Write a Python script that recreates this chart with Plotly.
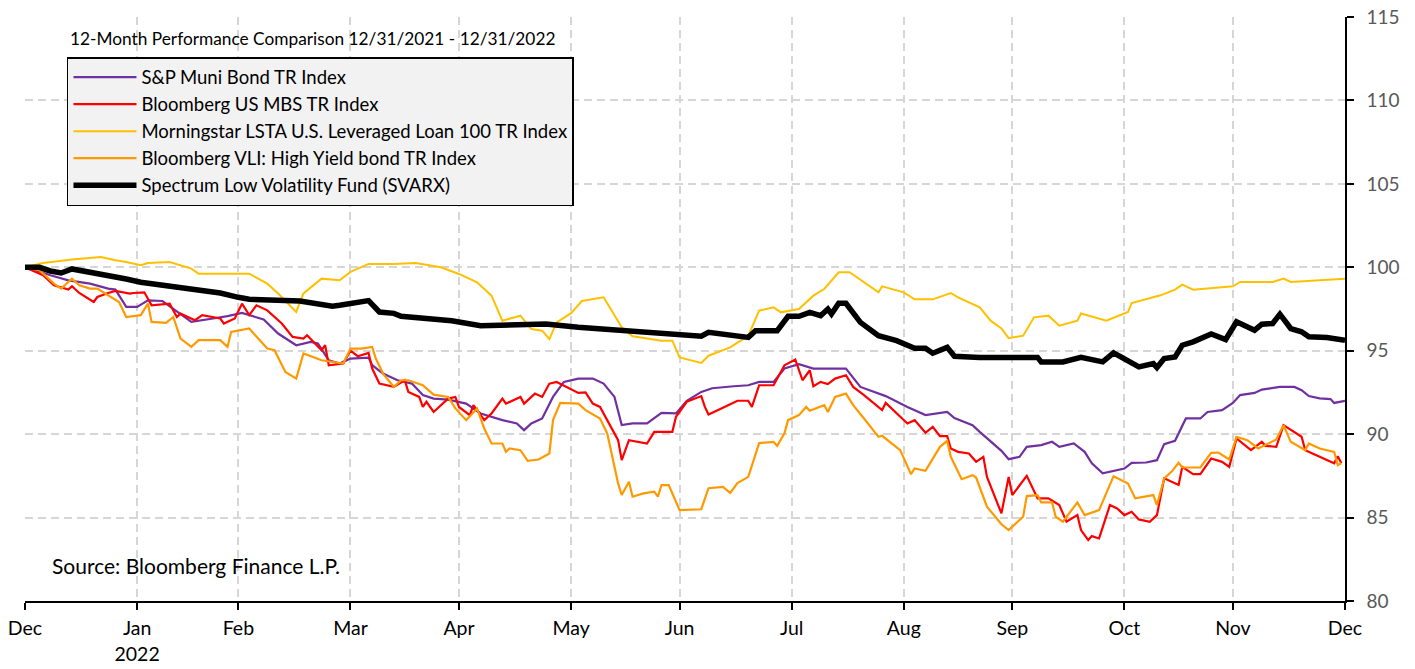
import pandas as pd
import plotly.graph_objects as go

BASE = pd.Timestamp("2021-12-31")

# days since 12/31/2021 and index values
muni_days = [0, 3, 7, 12, 18, 23, 25, 28, 31, 34, 38, 41, 46, 52, 56, 60, 66, 70, 75, 79, 81, 84, 87, 90, 95, 96, 99,
             103, 107, 110, 113, 117, 122, 126, 132, 136, 138, 140, 143, 146, 149, 153, 157, 160, 163, 165, 168, 172,
             176, 180, 183, 187, 190, 196, 200, 203, 207, 210, 213, 214, 218, 227, 231, 236, 238, 244, 249, 255, 257,
             262, 264, 270, 272, 275, 277, 281, 284, 286, 290, 293, 295, 298, 304, 306, 310, 313, 315, 318, 321, 325,
             327, 331, 334, 336, 340, 342, 347, 351, 353, 355, 358, 361, 362, 365]
muni_vals = [100, 99.82, 99.52, 99.22, 99.02, 98.72, 98.66, 97.63, 97.63, 98.02, 97.98, 97.52, 96.73, 96.93, 97.07,
             97.26, 96.87, 96.03, 95.33, 95.53, 95.43, 94.43, 94.23, 94.53, 94.59, 94.13, 93.63, 93.23, 93.03, 92.34,
             92.13, 92.07, 91.83, 91.24, 90.84, 90.64, 90.24, 90.64, 90.94, 92.23, 93.13, 93.33, 93.33, 93.03, 92.23,
             90.54, 90.64, 90.64, 91.28, 91.24, 92.0, 92.53, 92.75, 92.87, 92.93, 93.13, 93.13, 93.93, 94.13, 94.19,
             93.93, 93.93, 92.83, 92.47, 92.28, 91.63, 91.14, 91.33, 90.96, 90.54, 90.14, 89.0, 88.5, 88.64, 89.24,
             89.34, 89.54, 89.24, 89.44, 88.94, 88.25, 87.65, 87.94, 88.28, 88.3, 88.44, 89.4, 89.6, 90.94, 90.94,
             91.33, 91.44, 91.87, 92.34, 92.47, 92.67, 92.83, 92.83, 92.63, 92.28, 92.14, 92.1, 91.87, 91.99]

mbs_days = [0, 3, 5, 8, 12, 13, 15, 19, 20, 23, 25, 29, 30, 33, 35, 40, 42, 43, 47, 49, 54, 55, 58, 60, 62, 64, 67,
            71, 74, 77, 78, 82, 83, 84, 88, 90, 92, 95, 96, 98, 102, 105, 106, 109, 110, 111, 113, 117, 119, 120,
            123, 124, 127, 129, 132, 133, 137, 138, 141, 143, 145, 147, 153, 155, 157, 159, 161, 164, 165, 167, 172,
            174, 179, 180, 183, 187, 188, 189, 194, 197, 200, 201, 203, 207, 210, 213, 215, 217, 218, 220, 222, 224,
            227, 229, 232, 237, 238, 240, 244, 246, 249, 251, 253, 255, 256, 258, 261, 263, 265, 266, 270, 272, 273,
            277, 280, 283, 286, 288, 291, 292, 294, 295, 297, 300, 302, 304, 306, 308, 311, 313, 315, 319, 320, 323,
            325, 328, 331, 333, 335, 339, 342, 343, 346, 348, 351, 353, 354, 358, 362, 363, 364]
mbs_vals = [100, 99.72, 99.52, 98.92, 98.66, 98.86, 98.46, 97.92, 98.22, 98.46, 98.58, 98.42, 98.46, 98.5, 97.72,
            97.82, 97.02, 97.22, 96.83, 97.13, 96.93, 96.63, 96.93, 97.82, 97.13, 97.72, 97.42, 96.63, 95.83, 95.73,
            95.93, 95.03, 95.33, 94.13, 94.23, 95.0, 94.67, 94.87, 93.93, 93.03, 92.83, 93.23, 92.53, 92.23, 91.63,
            91.94, 91.33, 92.13, 92.23, 91.63, 91.14, 91.74, 90.84, 91.24, 92.13, 91.83, 92.23, 91.83, 92.43, 92.23,
            93.03, 93.13, 92.47, 92.5, 91.83, 91.63, 90.84, 89.64, 88.44, 89.64, 89.44, 90.14, 90.14, 91.04, 91.94,
            92.28, 91.63, 91.18, 91.68, 92.0, 92.0, 91.63, 92.93, 92.93, 94.13, 94.47, 93.23, 93.83, 92.87, 93.13,
            93.0, 93.33, 93.53, 92.83, 92.34, 91.44, 91.87, 91.44, 90.64, 90.84, 90.08, 90.44, 89.88, 89.88, 89.14,
            88.94, 88.84, 88.34, 88.64, 87.44, 85.25, 87.44, 86.35, 87.5, 86.15, 86.15, 85.75, 84.75, 85.15, 84.25,
            83.65, 83.89, 83.75, 85.75, 85.55, 85.15, 85.35, 84.89, 84.75, 85.15, 87.35, 86.95, 88.04, 87.6, 87.6,
            88.54, 88.34, 88.04, 89.74, 89.04, 89.54, 89.3, 89.24, 90.54, 90.14, 89.84, 89.04, 88.64, 88.25, 88.68,
            88.25]

lsta_days = [0, 5, 13, 21, 25, 28, 32, 34, 40, 46, 48, 62, 67, 70, 75, 77, 82, 87, 90, 95, 102, 108, 115, 120, 125,
             129, 132, 137, 140, 143, 145, 147, 151, 154, 160, 165, 168, 176, 179, 181, 187, 189, 195, 200, 203, 207,
             209, 214, 218, 221, 225, 228, 236, 237, 243, 246, 251, 256, 258, 264, 267, 270, 272, 276, 279, 283, 286,
             291, 292, 299, 305, 306, 314, 318, 320, 323, 334, 336, 345, 348, 350, 356, 365]
lsta_vals = [100, 100.26, 100.46, 100.62, 100.42, 100.32, 100.12, 100.26, 100.32, 99.92, 99.62, 99.62, 99.02, 98.43,
             97.33, 98.43, 99.32, 99.22, 99.72, 100.2, 100.2, 100.26, 100.0, 99.6, 99.1, 98.3, 96.8, 97.1, 96.3, 96.2,
             95.7, 96.7, 97.25, 97.98, 98.2, 96.4, 95.87, 95.6, 95.6, 94.6, 94.27, 94.7, 95.2, 95.9, 97.4, 97.6, 97.3,
             97.5, 98.3, 98.7, 99.7, 99.7, 98.5, 98.86, 98.5, 98.08, 98.08, 98.46, 98.2, 97.6, 96.8, 96.33, 95.75, 95.9,
             97.0, 97.1, 96.5, 96.8, 97.23, 96.8, 97.32, 97.86, 98.32, 98.66, 98.96, 98.66, 98.86, 99.12, 99.12, 99.32,
             99.12, 99.2, 99.32]

vli_days = [0, 4, 8, 10, 12, 13, 15, 18, 20, 22, 26, 28, 32, 34, 35, 39, 41, 43, 46, 48, 54, 56, 57, 62, 64, 67, 69,
            72, 75, 77, 82, 88, 90, 93, 96, 97, 99, 102, 104, 106, 110, 113, 117, 119, 122, 125, 127, 129, 132, 133,
            134, 137, 139, 142, 145, 146, 148, 151, 153, 155, 159, 161, 164, 165, 167, 168, 171, 174, 175, 176, 178,
            181, 187, 189, 193, 195, 197, 200, 203, 207, 208, 210, 211, 214, 216, 217, 221, 222, 224, 227, 229, 232,
            236, 237, 242, 245, 246, 249, 253, 255, 256, 259, 262, 263, 266, 270, 272, 276, 277, 280, 281, 284, 285,
            287, 291, 293, 297, 301, 305, 307, 312, 313, 315, 317, 319, 320, 325, 328, 330, 333, 335, 338, 341, 346,
            348, 350, 354, 355, 358, 362, 363, 364]
vli_vals = [100, 99.82, 99.02, 98.72, 99.12, 99.32, 98.92, 98.72, 98.72, 98.46, 97.92, 97.02, 97.13, 97.82, 96.73,
            96.67, 97.02, 95.73, 95.23, 95.63, 95.63, 95.23, 96.13, 96.33, 95.83, 95.13, 95.03, 93.73, 93.33, 94.83,
            94.43, 94.23, 95.13, 95.13, 95.23, 94.53, 93.63, 92.83, 93.23, 93.23, 92.93, 92.37, 92.23, 91.54, 90.84,
            91.54, 90.34, 89.44, 89.44, 88.94, 89.14, 89.04, 88.4, 88.48, 88.84, 90.84, 91.87, 91.87, 91.83, 91.44,
            90.94, 90.04, 87.05, 86.35, 87.15, 86.25, 86.45, 86.55, 86.25, 86.95, 86.95, 85.45, 85.5, 86.76, 86.84,
            86.48, 87.07, 87.44, 89.46, 89.54, 89.3, 90.05, 90.84, 91.14, 91.63, 91.4, 91.74, 91.33, 92.23, 92.43,
            91.74, 90.94, 89.84, 89.9, 89.04, 87.6, 87.94, 87.8, 89.24, 89.6, 88.64, 87.3, 87.54, 87.4, 85.65, 84.6,
            84.25, 85.05, 86.29, 86.35, 85.91, 85.91, 85.05, 84.75, 85.91, 85.15, 85.45, 87.48, 87.04, 86.15, 86.35,
            85.75, 87.35, 87.74, 88.28, 88.0, 88.0, 88.88, 88.9, 88.48, 89.84, 89.64, 89.14, 89.68, 90.54, 89.54,
            89.04, 89.44, 89.14, 88.94, 88.14, 88.25]

svarx_days = [0, 4, 7, 10, 13, 19, 25, 28, 32, 36, 41, 48, 54, 59, 62, 76, 81, 85, 87, 90, 95, 98, 102, 104, 118,
              126, 144, 153, 166, 170, 178, 187, 189, 193, 196, 200, 202, 208, 211, 214, 217, 220, 222, 223, 225, 227,
              231, 236, 241, 246, 249, 251, 255, 257, 264, 280, 281, 287, 292, 298, 301, 305, 308, 312, 313, 315, 318,
              320, 323, 328, 332, 335, 340, 342, 345, 347, 350, 353, 355, 360, 365]
svarx_vals = [100, 100.0, 99.78, 99.66, 99.9, 99.66, 99.5, 99.3, 99.1, 98.98, 98.86, 98.7, 98.46, 98.2, 98.08, 97.98,
              97.84, 97.66, 97.72, 97.84, 98.0, 97.32, 97.24, 97.06, 96.8, 96.5, 96.6, 96.4, 96.2, 96.07, 96.0, 95.87,
              96.1, 96.0, 95.87, 95.8, 96.2, 96.2, 97.06, 97.06, 97.3, 97.1, 97.5, 97.2, 97.84, 97.84, 96.7, 95.9, 95.6,
              95.15, 95.15, 94.85, 95.2, 94.67, 94.6, 94.6, 94.33, 94.33, 94.6, 94.33, 94.87, 94.43, 94.03, 94.23, 93.99,
              94.53, 94.63, 95.33, 95.53, 96.0, 95.67, 96.73, 96.23, 96.59, 96.63, 97.19, 96.33, 96.13, 95.83, 95.79,
              95.63]

series_names = ["S&P Muni Bond TR Index", "Bloomberg US MBS TR Index",
                "Morningstar LSTA U.S. Leveraged Loan 100 TR Index", "Bloomberg VLI: High Yield bond TR Index",
                "Spectrum Low Volatility Fund (SVARX)"]
tick_dates = ["2021-12-31", "2022-01-31", "2022-02-28", "2022-03-31", "2022-04-30", "2022-05-31", "2022-06-30",
              "2022-07-31", "2022-08-31", "2022-09-30", "2022-10-31", "2022-11-30", "2022-12-31"]
tick_labels = ["Dec", "Jan<br>2022", "Feb", "Mar", "Apr", "May", "Jun", "Jul", "Aug", "Sep", "Oct", "Nov", "Dec"]
y_ticks = [80, 85, 90, 95, 100, 105, 110, 115]

FONT = "Lato"
GRID = dict(showgrid=True, gridcolor="#d6d6d6", griddash="8px,5px", gridwidth=1.5)


def to_dates(days):
    return BASE + pd.to_timedelta(days, unit="D")


data = [(muni_days, muni_vals, "#7030a0", 2.2),
        (mbs_days, mbs_vals, "#ff0000", 2.2),
        (lsta_days, lsta_vals, "#ffc000", 2.0),
        (vli_days, vli_vals, "#ff9900", 2.2),
        (svarx_days, svarx_vals, "#000000", 5.5)]

fig = go.Figure()
for (d, v, c, w), name in zip(data, series_names):
    fig.add_trace(go.Scatter(x=to_dates(d), y=v, mode="lines", name=name,
                             line=dict(color=c, width=w)))

fig.update_layout(
    width=1415, height=669,
    margin=dict(l=25, r=70, t=17, b=68, autoexpand=False),
    paper_bgcolor="white", plot_bgcolor="white",
    font=dict(family=FONT, size=16, color="black"),
    showlegend=True,
    legend=dict(x=0.0318, y=0.9315, xanchor="left", yanchor="top",
                bgcolor="#f2f2f2", bordercolor="black", borderwidth=1.5,
                font=dict(family=FONT, size=18.5, color="black"),
                traceorder="normal", itemwidth=63),
    annotations=[
        dict(text="12-Month Performance Comparison 12/31/2021 - 12/31/2022", x=0.0326, y=0.964,
             xref="paper", yref="paper", xanchor="left", yanchor="middle", showarrow=False,
             font=dict(family=FONT, size=17.3, color="black")),
        dict(text="Source: Bloomberg Finance L.P.", x=0.0189, y=0.06,
             xref="paper", yref="paper", xanchor="left", yanchor="middle", showarrow=False,
             font=dict(family=FONT, size=21, color="black")),
    ],
)
fig.update_xaxes(
    type="date", range=[tick_dates[0], tick_dates[-1]], automargin=False,
    tickmode="array", tickvals=tick_dates, ticktext=tick_labels, ticklabeloverflow="allow",
    showline=True, linecolor="black", linewidth=1.5,
    ticks="outside", ticklen=7, tickcolor="black", tickwidth=1.5,
    ticklabelstandoff=2, zeroline=False,
    tickfont=dict(family=FONT, size=19.5, color="black"), **GRID,
)
fig.update_yaxes(
    side="right", range=[80, 115], automargin=False, tickmode="array", tickvals=y_ticks,
    ticklabeloverflow="allow",
    showline=True, linecolor="black", linewidth=1.5,
    ticks="outside", ticklen=7, tickcolor="black", tickwidth=1.5,
    ticklabelstandoff=9, zeroline=False,
    tickfont=dict(family=FONT, size=19, color="#595959"), **GRID,
)

# remove the default page margin so the 1415x669 figure fills the window exactly
fig.write_html("out.html", config={"displayModeBar": False},
               post_script="document.body.style.margin='0';")
